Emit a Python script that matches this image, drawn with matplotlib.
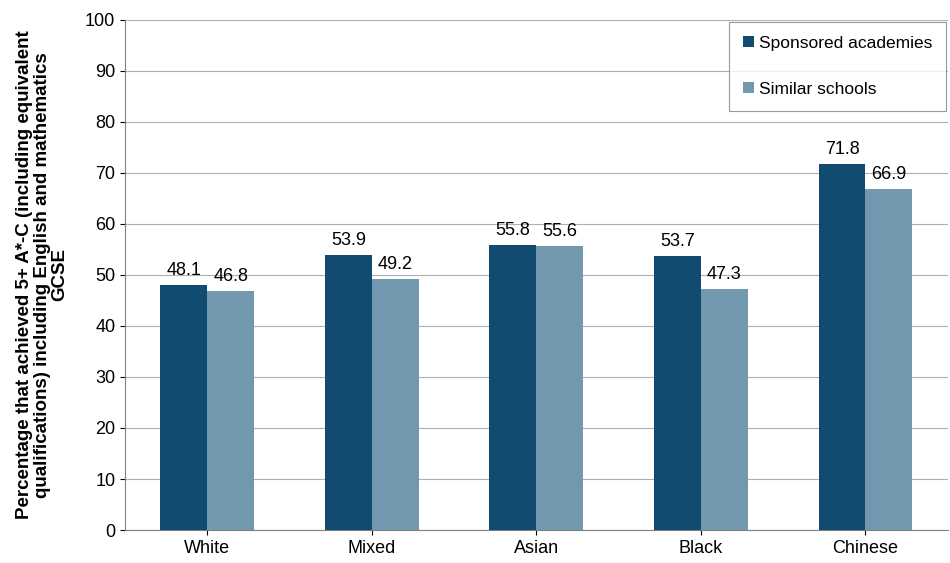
import matplotlib
matplotlib.use("Agg")
import matplotlib.pyplot as plt
import numpy as np

plt.rcParams['font.family'] = ['Liberation Sans', 'DejaVu Sans']

categories = ["White", "Mixed", "Asian", "Black", "Chinese"]
sponsored = [48.1, 53.9, 55.8, 53.7, 71.8]
similar = [46.8, 49.2, 55.6, 47.3, 66.9]
yticks = list(range(0, 101, 10))

fig = plt.figure(figsize=(9.5, 5.63), dpi=100)
ax = fig.add_axes([0.1316, 0.0586, 0.866, 0.906])
x = np.arange(len(categories))
w = 0.285
b1 = ax.bar(x - w/2, sponsored, w, color="#114B70", label="Sponsored academies", zorder=3)
b2 = ax.bar(x + w/2, similar, w, color="#7298B0", label="Similar schools", zorder=3)
for bars in (b1, b2):
    for r in bars:
        ax.text(r.get_x() + r.get_width()/2, r.get_height() + 1.2, f"{r.get_height():.1f}",
                ha="center", va="bottom", fontsize=13)
ax.set_xlim(-0.5, len(categories) - 0.5)
ax.set_ylim(0, 100)
ax.set_yticks(yticks)
ax.set_xticks(x)
ax.set_xticklabels(categories, fontsize=13)
ax.tick_params(axis='y', labelsize=13)
ax.grid(axis='y', color="#b0b0b0", linewidth=0.8, zorder=0)
for s in ["top", "right"]:
    ax.spines[s].set_visible(False)
ax.spines["left"].set_color("#808080")
ax.spines["bottom"].set_color("#808080")
ax.set_ylabel("Percentage that achieved 5+ A*-C (including equivalent\nqualifications) including English and mathematics\nGCSE",
              fontsize=13.5, fontweight="bold", linespacing=1.05, labelpad=12)
leg = ax.legend(loc="upper right", fontsize=12.5, frameon=True, fancybox=False,
                edgecolor="#808080", handlelength=0.6, handleheight=0.6,
                labelspacing=1.8, borderpad=0.8, handletextpad=0.3, borderaxespad=0.1)
leg.get_frame().set_linewidth(0.8)
fig.savefig("out.png", dpi=100)
